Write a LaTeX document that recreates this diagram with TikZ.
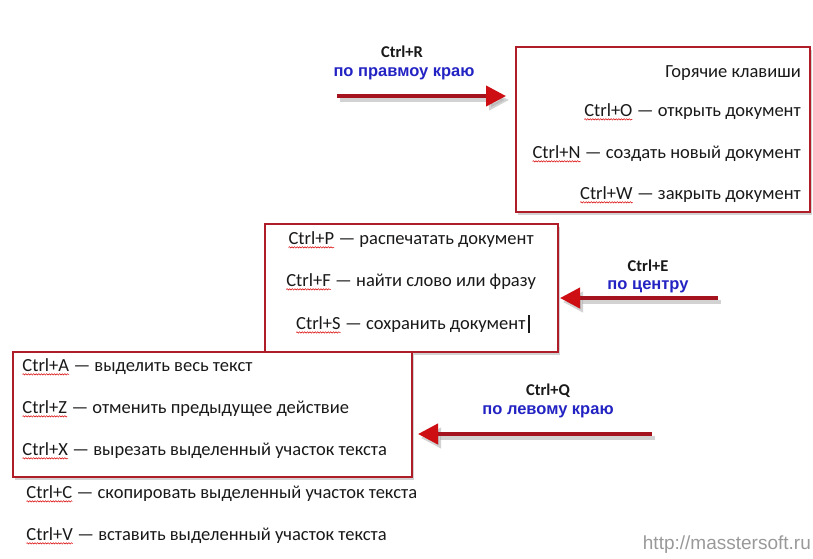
\documentclass[tikz,border=0pt]{standalone}
\usepackage{fontspec}
\setmainfont{Carlito}
\newfontfamily\arialf{Liberation Sans}
\usetikzlibrary{arrows.meta,shadows,decorations.pathmorphing}
\definecolor{boxred}{RGB}{175,30,40}
\definecolor{arrred}{RGB}{165,20,30}
\definecolor{headred}{RGB}{205,15,20}
\definecolor{lblue}{RGB}{35,35,195}
\definecolor{txt}{RGB}{25,25,25}
\newcommand\sq[1]{\tikz[baseline=(k.base)]{\node[inner sep=0pt,outer sep=0pt,anchor=center,rotate=0] (k) {#1};
  \draw[red!85!black, line width=0.5pt, decorate, decoration={snake,amplitude=0.7pt,segment length=2.6pt}] ([yshift=-2.8pt]k.base west) -- ([yshift=-2.8pt]k.base east);}}
\tikzset{
  hbox/.style={draw=boxred, line width=2pt, fill=white, drop shadow={shadow xshift=2pt, shadow yshift=-3pt, opacity=0.35}},
  tline/.style={font=\fontsize{18.5}{22}\selectfont, text=txt, inner sep=0pt},
  klab/.style={font=\fontsize{16.5}{19}\selectfont\bfseries, text=txt, inner sep=0pt},
  blab/.style={font=\arialf\fontsize{16.5}{19}\selectfont\bfseries, text=lblue, inner sep=0pt},
  arr/.style={draw=arrred, line width=4pt, -{Triangle[length=20pt,width=20pt,fill=headred,color=headred]}},
  arrsh/.style={draw=black!35, line width=4pt, opacity=0.5, -{Triangle[length=20pt,width=20pt]}}
}
\begin{document}
\begin{tikzpicture}[x=1pt,y=-1pt]
\useasboundingbox (0,0) rectangle (813,558);
% boxes
\path[hbox] (516,47) rectangle (810,212);
\path[hbox] (265,224) rectangle (558,352);
\path[hbox] (13,352) rectangle (412,477);
% box 1 text
\node[tline, anchor=east] (h0) at (801,73) {Горячие клавиши};
\node[tline, anchor=east] (h1) at (801,112) {\sq{Ctrl+O} — открыть документ};
\node[tline, anchor=east] (h2) at (801,154) {\sq{Ctrl+N} — создать новый документ};
\node[tline, anchor=east] (h3) at (801,195) {\sq{Ctrl+W} — закрыть документ};
% box 2 text
\node[tline] (c1) at (411,240) {\sq{Ctrl+P} — распечатать документ};
\node[tline] (c2) at (411,282) {\sq{Ctrl+F} — найти слово или фразу};
\node[tline] (c3) at (413,324) {\sq{Ctrl+S} — сохранить документ\hspace{3pt}\rule[-3pt]{1.6pt}{18pt}};
% box 3 text
\node[tline, anchor=west] (l1) at (22,367) {\sq{Ctrl+A} — выделить весь текст};
\node[tline, anchor=west] (l2) at (22,409) {\sq{Ctrl+Z} — отменить предыдущее действие};
\node[tline, anchor=west] (l3) at (22,451) {\sq{Ctrl+X} — вырезать выделенный участок текста};
% outside lines
\node[tline, anchor=west] (o1) at (26,494) {\sq{Ctrl+C} — скопировать выделенный участок текста};
\node[tline, anchor=west] (o2) at (26,536) {\sq{Ctrl+V} — вставить выделенный участок текста};
% labels
\node[klab] (kr) at (402,52) {Ctrl+R};
\node[blab] (br) at (404,74) {по правмоу краю};
\node[klab] (ke) at (648,266) {Ctrl+E};
\node[blab] (be) at (648,287) {по центру};
\node[klab] (kq) at (548,391) {Ctrl+Q};
\node[blab] (bq) at (548,412) {по левому краю};
% arrows
\coordinate (r0) at (337,96); \coordinate (r1) at (506,96);
\coordinate (e0) at (718,298); \coordinate (e1) at (560,298);
\coordinate (q0) at (652,434); \coordinate (q1) at (418,434);
\coordinate (r0s) at (340,100); \coordinate (r1s) at (509,100);
\coordinate (e0s) at (721,302); \coordinate (e1s) at (563,302);
\coordinate (q0s) at (655,438); \coordinate (q1s) at (421,438);
\draw[arrsh] (r0s) -- (r1s);
\draw[arrsh] (e0s) -- (e1s);
\draw[arrsh] (q0s) -- (q1s);
\draw[arr] (r0) -- (r1);
\draw[arr] (e0) -- (e1);
\draw[arr] (q0) -- (q1);
% watermark
\node[font=\arialf\fontsize{19}{21}\selectfont, text=black!40, anchor=east, inner sep=0pt] (wm) at (811,545) {http://masstersoft.ru};
\end{tikzpicture}
\end{document}
